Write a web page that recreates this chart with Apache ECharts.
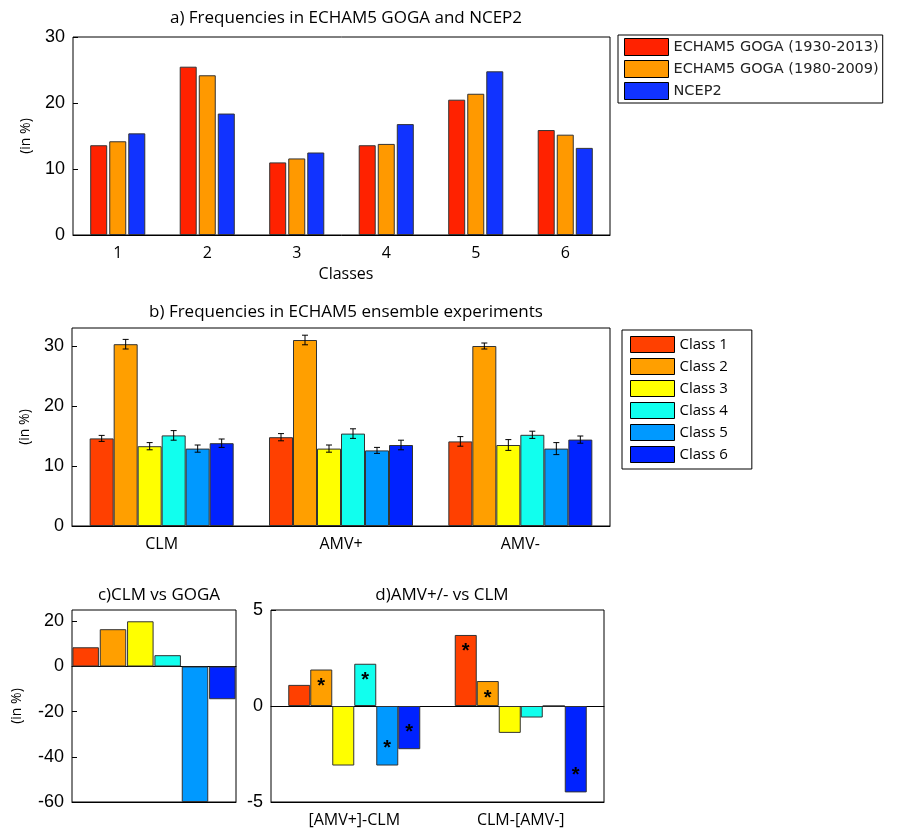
<!DOCTYPE html>
<html><head><meta charset="utf-8">
<script src="https://cdn.jsdelivr.net/npm/echarts@6/dist/echarts.min.js"></script>
<style>body{margin:0}#c{width:904px;height:837px}</style></head>
<body><div id="c"></div>
<script>
// panel a
var classesA = ['1', '2', '3', '4', '5', '6'];
var gogaLong = [13.6, 25.5, 11.0, 13.6, 20.5, 15.9];
var gogaShort = [14.2, 24.2, 11.6, 13.8, 21.4, 15.2];
var ncep2 = [15.4, 18.4, 12.5, 16.8, 24.8, 13.2];
// panel b
var experiments = ['CLM', 'AMV+', 'AMV-'];
var classNames = ['Class 1', 'Class 2', 'Class 3', 'Class 4', 'Class 5', 'Class 6'];
var expValues = [
	[14.6, 14.8, 14.1],
	[30.3, 31.0, 30.0],
	[13.3, 12.9, 13.5],
	[15.1, 15.4, 15.2],
	[12.9, 12.6, 12.9],
	[13.8, 13.5, 14.4]
];
var expErrors = [
	[0.5, 0.6, 0.8],
	[0.8, 0.8, 0.5],
	[0.6, 0.6, 0.9],
	[0.8, 0.8, 0.6],
	[0.6, 0.5, 1.0],
	[0.7, 0.8, 0.6]
];
// panel c
var clmVsGoga = [8.5, 16.5, 20.0, 5.0, -60.0, -14.5];
// panel d
var diffCats = ['[AMV+]-CLM', 'CLM-[AMV-]'];
var diffValues = [
	[1.1, 3.7],
	[1.9, 1.3],
	[-3.1, -1.4],
	[2.2, -0.6],
	[-3.1, 0],
	[-2.25, -4.5]
];
var diffSignif = [
	[false, true],
	[true, true],
	[false, false],
	[true, false],
	[true, false],
	[true, true]
];

var classColors = ['#ff4000', '#ff9f00', '#ffff00', '#11ffee', '#0099ff', '#0022ff'];
var font = 'Open Sans';
var chart = echarts.init(document.getElementById('c'));

function yAx(idx, min, max, interval, name, gap) {
	return {
		type: 'value', gridIndex: idx, min: min, max: max, interval: interval,
		name: name, nameLocation: 'middle', nameGap: gap, nameRotate: 90,
		nameTextStyle: {color: '#000', fontSize: 14, fontFamily: font},
		axisLine: {show: false}, axisTick: {show: true, inside: true, length: 5, lineStyle: {color: '#000'}},
		axisLabel: {color: '#000', fontSize: 18, fontFamily: 'Liberation Sans', showMaxLabel: max % interval === 0},
		splitLine: {show: false}
	};
}
function xAx(idx, data, showLabel) {
	return {
		type: 'category', gridIndex: idx, data: data,
		axisLine: {onZero: false, lineStyle: {color: '#000'}},
		axisTick: {show: idx === 0, inside: true, alignWithLabel: true, lineStyle: {color: '#000'}},
		axisLabel: {show: showLabel, color: '#000', fontSize: 16, fontFamily: font, margin: 10}
	};
}
function zeroAx(idx, data) {
	return {
		type: 'category', gridIndex: idx, data: data, position: 'bottom', offset: 0,
		axisLine: {show: true, onZero: true, lineStyle: {color: '#000'}},
		axisTick: {show: false}, axisLabel: {show: false}
	};
}
var grids = [
	{left: 73, top: 37, width: 537, height: 198},
	{left: 72, top: 328, width: 538, height: 198},
	{left: 72, top: 610, width: 164, height: 192},
	{left: 271, top: 610, width: 333, height: 192}
].map(function (g) { g.show = true; g.borderColor = '#000'; g.borderWidth = 1; return g; });

var barBorder = {borderColor: '#333', borderWidth: 1};
var series = [];
[['ECHAM5 GOGA (1930-2013)', gogaLong, '#ff2200'], ['ECHAM5 GOGA (1980-2009)', gogaShort, '#ff9900'], ['NCEP2', ncep2, '#1133ff']].forEach(function (s) {
	series.push({name: s[0], type: 'bar', xAxisIndex: 0, yAxisIndex: 0, data: s[1], barWidth: 17, barGap: '12%',
		itemStyle: Object.assign({color: s[2]}, barBorder)});
});
classNames.forEach(function (n, i) {
	series.push({name: n, type: 'bar', xAxisIndex: 1, yAxisIndex: 1, data: expValues[i], barWidth: 24, barGap: 0,
		itemStyle: Object.assign({color: classColors[i]}, barBorder)});
});
series.push({type: 'bar', xAxisIndex: 2, yAxisIndex: 2, barWidth: 26.5,
	data: clmVsGoga.map(function (v, i) { return {value: v, itemStyle: {color: classColors[i]}}; }),
	itemStyle: barBorder});
classNames.forEach(function (n, i) {
	series.push({type: 'bar', xAxisIndex: 3, yAxisIndex: 3, barWidth: 22, barGap: 0,
		itemStyle: Object.assign({color: classColors[i]}, barBorder),
		data: diffValues[i].map(function (v, j) {
			return {value: v, label: {show: diffSignif[i][j], formatter: '*', position: v >= 0 ? 'insideTop' : 'insideBottom',
				color: '#000', fontSize: 20, fontWeight: 'bold', offset: [0, v >= 0 ? 2 : -2]}};
		})});
});
// error bars panel b
var errData = [];
classNames.forEach(function (n, i) {
	experiments.forEach(function (e, j) {
		errData.push([j, expValues[i][j], expErrors[i][j], i]);
	});
});
series.push({type: 'custom', xAxisIndex: 1, yAxisIndex: 1, data: errData, z: 10,
	renderItem: function (params, api) {
		var j = api.value(0), v = api.value(1), e = api.value(2), i = api.value(3);
		var c = api.coord([j, v]);
		var x = c[0] + (i - 2.5) * 24;
		var top = api.coord([j, v + e])[1], bot = api.coord([j, v - e])[1];
		var st = {stroke: '#000', lineWidth: 1};
		return {type: 'group', children: [
			{type: 'line', shape: {x1: x, y1: top, x2: x, y2: bot}, style: st},
			{type: 'line', shape: {x1: x - 3, y1: top, x2: x + 3, y2: top}, style: st},
			{type: 'line', shape: {x1: x - 3, y1: bot, x2: x + 3, y2: bot}, style: st}
		]};
	}});

var titleStyle = {color: '#000', fontSize: 17, fontWeight: 'normal', fontFamily: font};
chart.setOption({
	animation: false,
	title: [
		{text: 'a) Frequencies in ECHAM5 GOGA and NCEP2', left: 341, top: 5, textAlign: 'center', textStyle: titleStyle},
		{text: 'Classes', left: 341, top: 261, textAlign: 'center', textStyle: Object.assign({}, titleStyle, {fontSize: 16})},
		{text: 'b) Frequencies in ECHAM5 ensemble experiments', left: 341, top: 299, textAlign: 'center', textStyle: titleStyle},
		{text: 'c)CLM vs GOGA', left: 154, top: 582, textAlign: 'center', textStyle: titleStyle},
		{text: 'd)AMV+/- vs CLM', left: 437, top: 582, textAlign: 'center', textStyle: titleStyle}
	],
	legend: [
		{data: ['ECHAM5 GOGA (1930-2013)', 'ECHAM5 GOGA (1980-2009)', 'NCEP2'], orient: 'vertical', left: 618, top: 35,
			itemWidth: 44, itemHeight: 17, itemGap: 4, padding: [3, 4, 3, 6], borderColor: '#000', borderWidth: 1,
			icon: 'rect', itemStyle: {borderColor: '#000', borderWidth: 1}, textStyle: {fontSize: 14.5, fontFamily: 'DejaVu Sans', color: '#222'}},
		{data: classNames, orient: 'vertical', left: 622, top: 330, itemWidth: 44, itemHeight: 16, itemGap: 5,
			padding: [6, 24, 6, 8], borderColor: '#000', borderWidth: 1, icon: 'rect',
			itemStyle: {borderColor: '#000', borderWidth: 1}, textStyle: {fontSize: 15, fontFamily: font, color: '#000'}}
	],
	grid: grids,
	xAxis: [xAx(0, classesA, true), xAx(1, experiments, true), xAx(2, classesA, false), xAx(3, diffCats, true),
		zeroAx(2, classesA), zeroAx(3, diffCats)],
	yAxis: [yAx(0, 0, 30, 10, '(in %)', 40), yAx(1, 0, 33, 10, '(in %)', 40), yAx(2, -60, 25, 20, '(in %)', 48), yAx(3, -5, 5, 5, '', 40)],
	series: series
});
</script></body></html>
